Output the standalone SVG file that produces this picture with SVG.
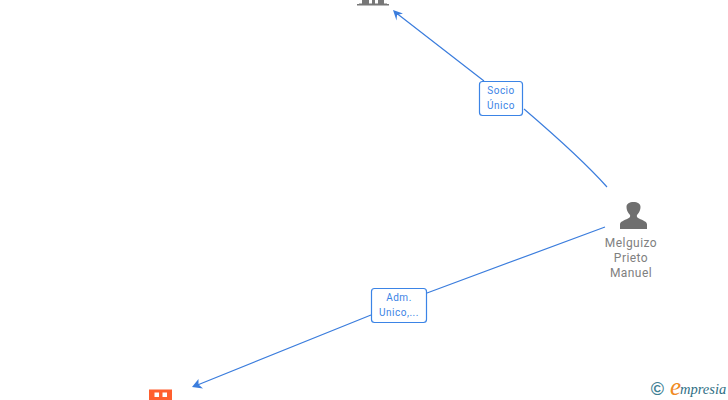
<svg xmlns="http://www.w3.org/2000/svg" width="728" height="400" viewBox="0 0 728 400">
<style>
.edge{fill:none;stroke:#3b7ddd;stroke-width:1.2}
.head{fill:#3b7ddd}
.box{fill:#fff;stroke:#3b84e6;stroke-width:1.2}
.elabel{font:10px Roboto,"Liberation Sans",sans-serif;fill:#3b84e6;text-anchor:middle;letter-spacing:.5px}
.nlabel{font:12px Roboto,"Liberation Sans",sans-serif;fill:#808080;text-anchor:middle;letter-spacing:.45px}
</style>
<rect width="728" height="400" fill="#fff"/>
<g id="connectors">
<path class="edge" d="M607 187C583 160 552 133 524 109M484 81L395 12"/>
<path class="head" d="M393 10L403 13.500L397 15L396.500 20.500Z"/>
<path class="edge" d="M605 227L427 293M371 315L195 386"/>
<path class="head" d="M192 387L198.500 379L198.500 384.500L203 388.500Z"/>
</g>
<g id="edge-label-socio">
<rect class="box" x="479.500" y="81.500" width="43" height="34" rx="3"/>
<text class="elabel" x="501" y="94">Socio</text>
<text class="elabel" x="501" y="109">Único</text>
</g>
<g id="edge-label-adm">
<rect class="box" x="371.500" y="288.500" width="55" height="34" rx="3"/>
<text class="elabel" x="399" y="301">Adm.</text>
<text class="elabel" x="399" y="316">Unico,...</text>
</g>
<g id="node-top">
<path fill="#777" d="M362 0H369V3.500H372V0H375V3.500H378V0H384V3.500H387V4H389V5.500H357V4H359V3.500H362Z"/>
</g>
<g id="node-melguizo">
<path fill="#6f6f6f" d="M620 229V224.500C620 221.500 624 220.500 628 218.500C630 217.500 630.500 216.500 630 215C627.500 212.500 626.500 209.500 626.500 207C626.500 203.500 629.500 202 633.500 202C637.500 202 640.500 203.500 640.500 207C640.500 209.500 639.500 212.500 637 215C636.500 216.500 637 217.500 639 218.500C643 220.500 647 221.500 647 224.500V229Z"/>
<text class="nlabel" x="631" y="247">Melguizo</text>
<text class="nlabel" x="631" y="262">Prieto</text>
<text class="nlabel" x="631" y="277">Manuel</text>
</g>
<g id="node-company">
<rect x="149" y="389.500" width="23" height="10.500" fill="#ff5f2e"/>
<rect x="154.500" y="392.500" width="4.500" height="4.500" fill="#fff"/>
<rect x="162.500" y="392.500" width="4.500" height="4.500" fill="#fff"/>
</g>
<g id="logo">
<text x="657.500" y="395" font-family="Liberation Sans,sans-serif" font-size="18" font-weight="bold" fill="#3f7f95" text-anchor="middle">©</text>
<text x="670" y="395" font-family="Liberation Serif,serif" font-style="italic" font-size="25" fill="#f08a24">e</text>
<text x="680" y="394" font-family="Liberation Serif,serif" font-style="italic" font-size="14.500" fill="#2f6f85">mpresia</text>
</g>
</svg>
